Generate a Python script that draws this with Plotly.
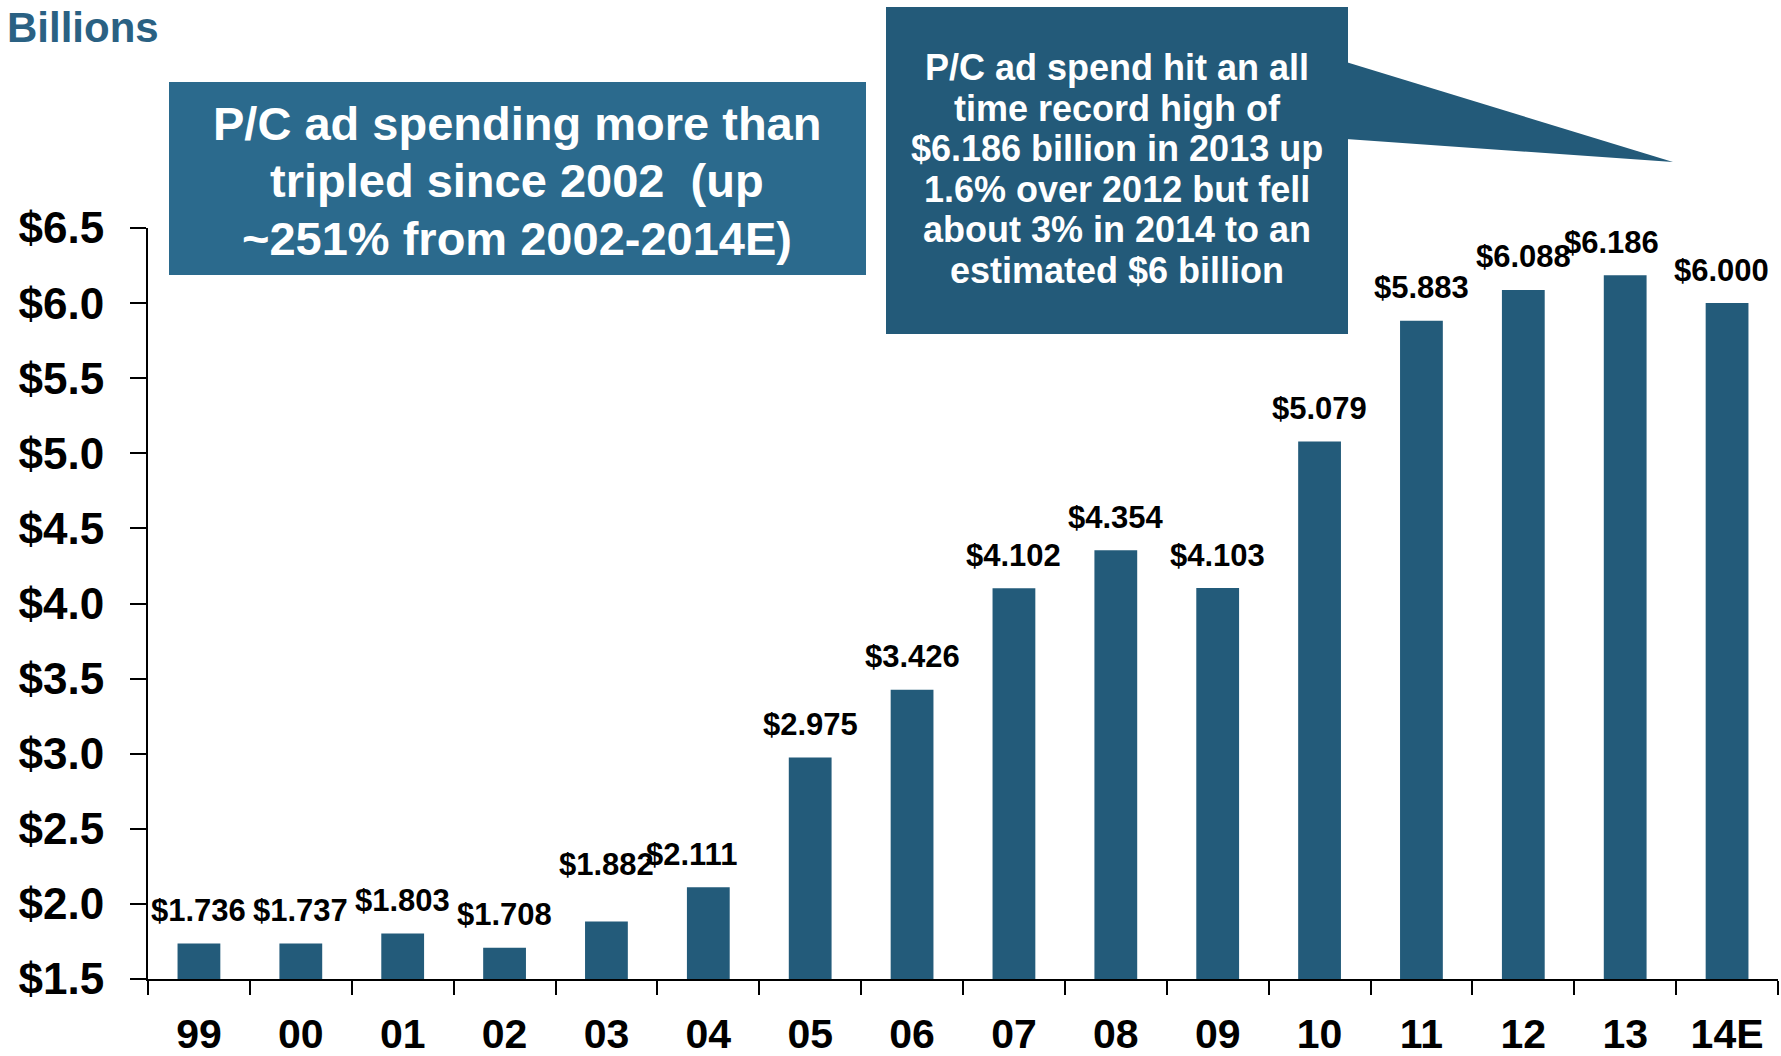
import plotly.graph_objects as go

# P/C insurer advertising spend, billions of dollars
years = ["99", "00", "01", "02", "03", "04", "05", "06", "07",
         "08", "09", "10", "11", "12", "13", "14E"]
ad_spend = [1.736, 1.737, 1.803, 1.708, 1.882, 2.111, 2.975, 3.426, 4.102,
            4.354, 4.103, 5.079, 5.883, 6.088, 6.186, 6.000]
y_ticks = [1.5, 2.0, 2.5, 3.0, 3.5, 4.0, 4.5, 5.0, 5.5, 6.0, 6.5]

headline_lines = ["P/C ad spending more than",
                  "tripled since 2002  (up",
                  "~251% from 2002-2014E)"]
callout_lines = ["P/C ad spend hit an all",
                 "time record high of",
                 "$6.186 billion in 2013 up",
                 "1.6% over 2012 but fell",
                 "about 3% in 2014 to an",
                 "estimated $6 billion"]

W, H = 1781, 1056
ML, MR, MT, MB = 148, 3, 228, 77
PW, PH = W - ML - MR, H - MT - MB

BAR = "#235b7a"
BOX_LIGHT = "#2b6a8d"
BOX_DARK = "#235a79"
FONT = "Liberation Sans, Arial, sans-serif"


def px(x):
    return (x - ML) / PW


def py(y):
    return (H - MB - y) / PH


fig = go.Figure(go.Bar(
    x=list(range(len(years))), y=ad_spend, width=0.42,
    marker=dict(color=BAR, line=dict(width=0)),
    hoverinfo="skip",
))

# value labels above each bar, with a few nudged to avoid crowding
nudge = {"03": (0, 24), "04": (-17, 0), "13": (-14, 0), "14E": (-6, 0)}
for i, (yr, v) in enumerate(zip(years, ad_spend)):
    dx, dy = nudge.get(yr, (0, 0))
    fig.add_annotation(
        x=i, y=v, text=f"${v:.3f}", showarrow=False,
        xanchor="center", yanchor="middle", xshift=dx, yshift=33 + dy,
        font=dict(family=FONT, size=31, color="black", weight="bold"),
    )

shapes = [
    dict(type="rect", xref="paper", yref="paper",
         x0=px(169), x1=px(866), y0=py(275), y1=py(82),
         fillcolor=BOX_LIGHT, line=dict(width=0), layer="above"),
    dict(type="rect", xref="paper", yref="paper",
         x0=px(886), x1=px(1348), y0=py(334), y1=py(7),
         fillcolor=BOX_DARK, line=dict(width=0), layer="above"),
    dict(type="path", xref="paper", yref="paper",
         path=(f"M {px(1346)} {py(62)} L {px(1673)} {py(162)} "
               f"L {px(1346)} {py(139)} Z"),
         fillcolor=BOX_DARK, line=dict(width=0), layer="above"),
]

# box texts, one annotation per line for tight leading
for k, line in enumerate(headline_lines):
    fig.add_annotation(
        xref="paper", yref="paper", x=px(517), y=py(123 + 57.5 * k),
        text=line, showarrow=False, xanchor="center", yanchor="middle",
        font=dict(family=FONT, size=47, color="white", weight="bold"),
    )
for k, line in enumerate(callout_lines):
    fig.add_annotation(
        xref="paper", yref="paper", x=px(1117), y=py(68 + 40.4 * k),
        text=line, showarrow=False, xanchor="center", yanchor="middle",
        font=dict(family=FONT, size=36, color="white", weight="bold"),
    )
fig.add_annotation(
    xref="paper", yref="paper", x=px(5), y=py(28),
    text="Billions", showarrow=False, xanchor="left", yanchor="middle",
    font=dict(family=FONT, size=42, color="#2a6183", weight="bold"),
)

fig.update_layout(
    width=W, height=H,
    margin=dict(l=ML, r=MR, t=MT, b=MB, pad=0, autoexpand=False),
    paper_bgcolor="white", plot_bgcolor="white",
    showlegend=False, shapes=shapes,
    xaxis=dict(
        range=[-0.5, 15.5], tickmode="array",
        tickvals=list(range(len(years))), ticktext=years,
        ticks="", showline=True, linewidth=2, linecolor="black",
        showgrid=False, zeroline=False, ticklabelstandoff=18,
        automargin=False,
        tickfont=dict(family=FONT, size=41, color="black", weight="bold"),
        minor=dict(tickmode="array",
                   tickvals=[i - 0.5 for i in range(len(years) + 1)],
                   ticks="outside", ticklen=14, tickwidth=2,
                   tickcolor="black", showgrid=False),
    ),
    yaxis=dict(
        range=[1.5, 6.5], tickvals=y_ticks,
        ticktext=[f"${t:.1f}" for t in y_ticks],
        ticks="outside", ticklen=16, tickwidth=2, tickcolor="black",
        showline=True, linewidth=2, linecolor="black",
        showgrid=False, zeroline=False, ticklabelstandoff=17,
        automargin=False,
        tickfont=dict(family=FONT, size=44, color="black", weight="bold"),
    ),
)

fig.write_html("out.html")
